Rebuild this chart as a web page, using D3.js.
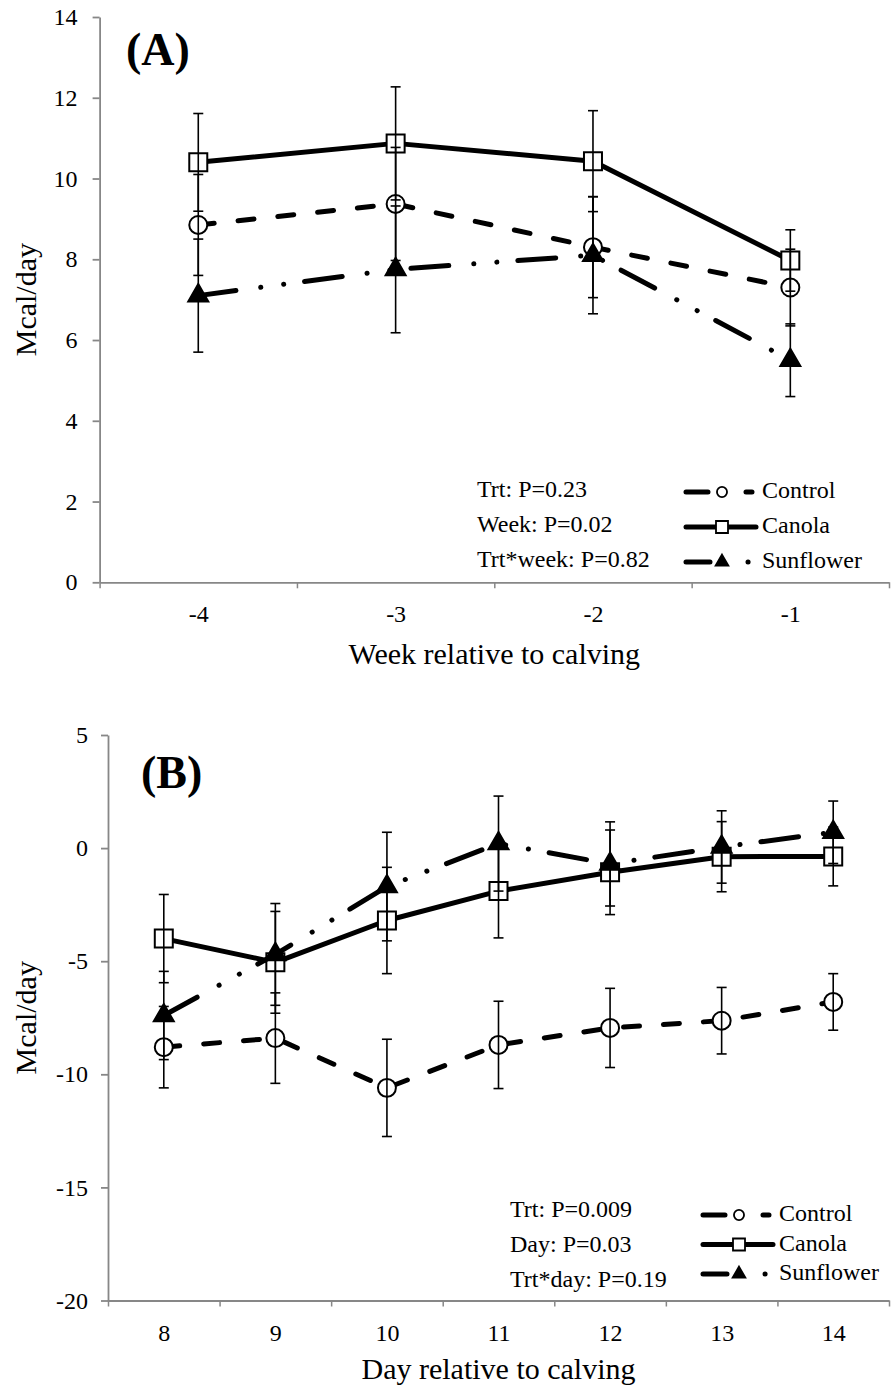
<!DOCTYPE html>
<html>
<head>
<meta charset="utf-8">
<script src="https://cdn.jsdelivr.net/npm/d3@7"></script>
<style>
  body { margin: 0; background: #fff; }
  text { font-family: "Liberation Serif", "Times New Roman", Times, serif; fill: #000; }
</style>
</head>
<body>
<div id="chart"></div>
<script>
// Panel A data: week relative to calving
var weeks = [-4, -3, -2, -1];
var weekControl = [8.85, 9.37, 8.3, 7.3];
var weekControlSE = [1.25, 1.4, 1.25, 0.95];
var weekCanola = [10.4, 10.87, 10.43, 7.97];
var weekCanolaSE = [1.21, 1.4, 1.25, 0.76];
var weekSunflower = [7.1, 7.75, 8.1, 5.5];
var weekSunflowerSE = [1.4, 1.57, 1.45, 0.9];
var weekTicks = [0, 2, 4, 6, 8, 10, 12, 14];
var weekStats = ["Trt: P=0.23", "Week: P=0.02", "Trt*week: P=0.82"];

// Panel B data: day relative to calving
var days = [8, 9, 10, 11, 12, 13, 14];
var dayControl = [-8.8, -8.4, -10.6, -8.7, -7.95, -7.63, -6.8];
var dayControlSE = [1.8, 2.0, 2.15, 1.93, 1.75, 1.47, 1.25];
var dayCanola = [-4.0, -5.05, -3.2, -1.9, -1.07, -0.38, -0.37];
var dayCanolaSE = [1.95, 2.25, 2.35, 2.07, 1.87, 1.55, 1.3];
var daySunflower = [-7.4, -4.7, -1.7, 0.2, -0.7, 0.05, 0.7];
var daySunflowerSE = [1.95, 2.25, 2.4, 2.1, 1.86, 1.6, 1.38];
var dayTicks = [-20, -15, -10, -5, 0, 5];
var dayStats = ["Trt: P=0.009", "Day: P=0.03", "Trt*day: P=0.19"];

var seriesNames = ["Control", "Canola", "Sunflower"];

var serif = "Liberation Serif, Times New Roman, serif";

// line style per series
var styles = {
  Control:   { dash: "16,24", symbol: d3.symbolCircle, size: 254, fill: "#fff", lsize: 80, ldash: "22,38,22" },
  Canola:    { dash: null, symbol: d3.symbolSquare, size: 324, fill: "#fff", lsize: 144, ldash: null },
  Sunflower: { dash: "38,25,0.1,23,0.1,21", symbol: d3.symbolTriangle, size: 173, fill: "#000", lsize: 70, ldash: "24,38,0.1,100" }
};

// plain hyphen for negatives, like the original
var fmt = function(d) { return String(d); };

var svg = d3.select("#chart").append("svg")
    .attr("width", 891)
    .attr("height", 1393);

function drawPanel(p) {
  var g = svg.append("g");

  var x = d3.scaleLinear()
      .domain([p.cats[0] - 0.5, p.cats[p.cats.length - 1] + 0.5])
      .range([p.left, p.right]);
  var y = d3.scaleLinear()
      .domain([p.yTicks[0], p.yTicks[p.yTicks.length - 1]])
      .range([p.bottom, p.top]);

  // y axis
  var ya = g.append("g")
      .attr("transform", "translate(" + p.left + ",0)")
      .call(d3.axisLeft(y).tickValues(p.yTicks).tickFormat(fmt).tickSize(7).tickSizeOuter(0).tickPadding(p.yPad))
      .attr("font-family", serif)
      .attr("font-size", 24);

  // x axis: tick marks at category boundaries
  var bounds = p.cats.map(function(c) { return c - 0.5; }).concat([p.cats[p.cats.length - 1] + 0.5]);
  var xa = g.append("g")
      .attr("transform", "translate(0," + p.bottom + ")")
      .call(d3.axisBottom(x).tickValues(bounds).tickSize(6).tickSizeOuter(0).tickFormat(""));
  var xl = g.append("g")
      .attr("transform", "translate(0," + p.bottom + ")")
      .call(d3.axisBottom(x).tickValues(p.cats).tickSize(0).tickPadding(23).tickFormat(fmt))
      .attr("font-family", serif)
      .attr("font-size", 24);
  xl.select(".domain").remove();

  [ya, xa].forEach(function(a) {
    a.selectAll(".domain, line").attr("stroke", "#878787").attr("stroke-width", 1.8);
  });
  xa.selectAll("line").attr("stroke-width", 1.5);

  // axis titles
  g.append("text")
      .attr("x", (p.left + p.right) / 2)
      .attr("y", p.bottom + p.titleGap)
      .attr("text-anchor", "middle")
      .style("font-size", "30px")
      .text(p.xTitle);
  g.append("text")
      .attr("transform", "translate(36," + ((p.top + p.bottom) / 2) + ") rotate(-90)")
      .attr("text-anchor", "middle")
      .style("font-size", "30px")
      .text("Mcal/day");

  // panel label
  g.append("text")
      .attr("x", p.labelX)
      .attr("y", p.labelY)
      .style("font-size", "46px")
      .style("font-weight", "bold")
      .text(p.label);

  var series = seriesNames.map(function(name, i) {
    return { name: name, values: p.values[i], se: p.se[i] };
  });

  var line = d3.line()
      .x(function(d, i) { return x(p.cats[i]); })
      .y(function(d) { return y(d); });

  series.forEach(function(s) {
    var st = styles[s.name];
    g.append("path")
        .datum(s.values)
        .attr("d", line)
        .attr("fill", "none")
        .attr("stroke", "#000")
        .attr("stroke-width", 5)
        .attr("stroke-linecap", "round")
        .attr("stroke-linejoin", "round")
        .attr("stroke-dasharray", st.dash);

    g.selectAll(null)
        .data(s.values)
      .enter().append("path")
        .attr("transform", function(d, i) { return "translate(" + x(p.cats[i]) + "," + y(d) + ")"; })
        .attr("d", d3.symbol().type(st.symbol).size(st.size))
        .attr("fill", st.fill)
        .attr("stroke", "#000")
        .attr("stroke-width", 2);
  });

  // error bars on top
  series.forEach(function(s) {
    var eb = g.selectAll(null)
        .data(s.values.map(function(v, i) { return { c: p.cats[i], v: v, e: s.se[i] }; }))
      .enter().append("g")
        .attr("stroke", "#000")
        .attr("stroke-width", 1.6);
    eb.append("line")
        .attr("x1", function(d) { return x(d.c); })
        .attr("x2", function(d) { return x(d.c); })
        .attr("y1", function(d) { return y(d.v + d.e); })
        .attr("y2", function(d) { return y(d.v - d.e); });
    [1, -1].forEach(function(sign) {
      eb.append("line")
          .attr("x1", function(d) { return x(d.c) - 5; })
          .attr("x2", function(d) { return x(d.c) + 5; })
          .attr("y1", function(d) { return y(d.v + sign * d.e); })
          .attr("y2", function(d) { return y(d.v + sign * d.e); });
    });
  });

  // stats text
  g.selectAll(null)
      .data(p.stats)
    .enter().append("text")
      .attr("x", p.statsX)
      .attr("y", function(d, i) { return p.statsY + i * 35; })
      .style("font-size", "24px")
      .text(function(d) { return d; });

  // legend
  var leg = g.selectAll(null)
      .data(seriesNames)
    .enter().append("g")
      .attr("transform", function(d, i) { return "translate(" + p.legX + "," + (p.legY + i * p.legStep) + ")"; });
  leg.append("line")
      .attr("x1", 0)
      .attr("x2", function(d) { return d === "Canola" ? 70 : 66; })
      .attr("stroke", "#000")
      .attr("stroke-width", 5)
      .attr("stroke-linecap", "round")
      .attr("stroke-dasharray", function(d) { return styles[d].ldash; });
  leg.append("path")
      .attr("transform", "translate(36,0)")
      .attr("d", function(d) { return d3.symbol().type(styles[d].symbol).size(styles[d].lsize)(); })
      .attr("fill", function(d) { return styles[d].fill; })
      .attr("stroke", "#000")
      .attr("stroke-width", 1.8);
  leg.append("text")
      .attr("x", 76)
      .attr("y", 6)
      .style("font-size", "24px")
      .text(function(d) { return d; });
}

drawPanel({
  cats: weeks,
  values: [weekControl, weekCanola, weekSunflower],
  se: [weekControlSE, weekCanolaSE, weekSunflowerSE],
  yTicks: weekTicks,
  stats: weekStats,
  left: 99.6, right: 889, top: 17, bottom: 582.3,
  yPad: 15, titleGap: 82,
  xTitle: "Week relative to calving",
  label: "(A)", labelX: 126, labelY: 65,
  statsX: 477, statsY: 497,
  legX: 686, legY: 492, legStep: 35
});

drawPanel({
  cats: days,
  values: [dayControl, dayCanola, daySunflower],
  se: [dayControlSE, dayCanolaSE, daySunflowerSE],
  yTicks: dayTicks,
  stats: dayStats,
  left: 108, right: 889, top: 735, bottom: 1300.5,
  yPad: 13, titleGap: 78,
  xTitle: "Day relative to calving",
  label: "(B)", labelX: 141, labelY: 788,
  statsX: 510, statsY: 1217,
  legX: 703, legY: 1215, legStep: 29.5
});
</script>
</body>
</html>
